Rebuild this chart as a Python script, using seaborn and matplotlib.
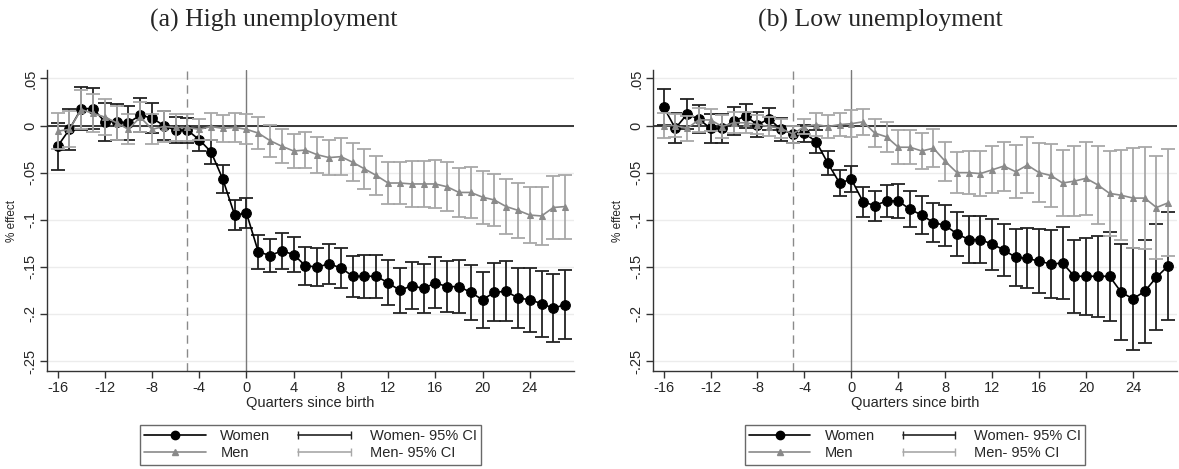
import numpy as np
import pandas as pd
import matplotlib
matplotlib.use("Agg")
import matplotlib.pyplot as plt
import seaborn as sns
from matplotlib.lines import Line2D
from matplotlib.legend_handler import HandlerLine2D

# quarters relative to birth
quarters = list(range(-16, 28))

# (a) high unemployment
women_high = [-0.022, -0.004, 0.018, 0.018, 0.004, 0.004, 0.003, 0.011, 0.008, 0.000, -0.005, -0.005,
              -0.015, -0.028, -0.057, -0.095, -0.093, -0.134, -0.138, -0.133, -0.137, -0.149, -0.150,
              -0.147, -0.151, -0.160, -0.160, -0.160, -0.167, -0.175, -0.170, -0.173, -0.167, -0.171,
              -0.171, -0.177, -0.185, -0.177, -0.176, -0.183, -0.185, -0.189, -0.194, -0.190]
women_high_ci = [0.025, 0.022, 0.023, 0.022, 0.020, 0.019, 0.018, 0.018, 0.016, 0.015, 0.014, 0.013,
                 0.012, 0.013, 0.015, 0.016, 0.016, 0.018, 0.018, 0.019, 0.019, 0.020, 0.020,
                 0.021, 0.021, 0.022, 0.023, 0.023, 0.024, 0.024, 0.025, 0.026, 0.027, 0.027,
                 0.028, 0.029, 0.030, 0.031, 0.032, 0.032, 0.034, 0.035, 0.036, 0.037]
men_high = [-0.006, -0.004, 0.017, 0.013, 0.009, 0.003, -0.004, 0.009, -0.004, -0.001, -0.002, -0.002,
            -0.004, -0.001, -0.003, -0.002, -0.004, -0.008, -0.016, -0.022, -0.027, -0.026, -0.031,
            -0.034, -0.033, -0.039, -0.046, -0.053, -0.061, -0.061, -0.062, -0.062, -0.062, -0.065,
            -0.071, -0.071, -0.076, -0.079, -0.086, -0.090, -0.095, -0.096, -0.087, -0.086]
men_high_ci = [0.019, 0.019, 0.021, 0.020, 0.019, 0.018, 0.016, 0.016, 0.016, 0.016, 0.014, 0.014,
               0.011, 0.014, 0.014, 0.015, 0.016, 0.017, 0.017, 0.018, 0.018, 0.019, 0.019,
               0.019, 0.020, 0.020, 0.021, 0.021, 0.022, 0.022, 0.024, 0.024, 0.025, 0.026,
               0.026, 0.027, 0.028, 0.028, 0.029, 0.029, 0.030, 0.031, 0.033, 0.034]

# (b) low unemployment
women_low = [0.020, -0.003, 0.012, 0.007, -0.003, -0.003, 0.005, 0.010, 0.001, 0.007, -0.004, -0.009,
             -0.008, -0.017, -0.040, -0.061, -0.057, -0.081, -0.085, -0.080, -0.080, -0.089, -0.095,
             -0.103, -0.106, -0.115, -0.121, -0.121, -0.126, -0.132, -0.140, -0.141, -0.144, -0.147,
             -0.146, -0.160, -0.160, -0.160, -0.160, -0.177, -0.184, -0.176, -0.161, -0.149]
women_low_ci = [0.019, 0.016, 0.016, 0.015, 0.015, 0.015, 0.015, 0.013, 0.013, 0.012, 0.012, 0.009,
                0.009, 0.012, 0.013, 0.014, 0.014, 0.016, 0.016, 0.017, 0.018, 0.019, 0.020,
                0.021, 0.022, 0.023, 0.025, 0.025, 0.027, 0.028, 0.030, 0.032, 0.034, 0.036,
                0.038, 0.039, 0.041, 0.043, 0.047, 0.051, 0.054, 0.055, 0.056, 0.057]
men_low = [0.000, 0.000, -0.003, 0.006, 0.006, -0.001, 0.003, 0.003, 0.001, -0.001, -0.003, -0.009,
           -0.001, 0.001, -0.001, 0.001, 0.002, 0.004, -0.008, -0.012, -0.023, -0.023, -0.027,
           -0.024, -0.038, -0.050, -0.050, -0.051, -0.047, -0.043, -0.049, -0.042, -0.050, -0.053,
           -0.061, -0.059, -0.056, -0.063, -0.072, -0.074, -0.077, -0.077, -0.087, -0.082]
men_low_ci = [0.013, 0.012, 0.013, 0.013, 0.012, 0.012, 0.011, 0.011, 0.010, 0.010, 0.010, 0.009,
              0.008, 0.012, 0.012, 0.012, 0.014, 0.014, 0.015, 0.016, 0.018, 0.018, 0.019,
              0.020, 0.021, 0.022, 0.023, 0.024, 0.025, 0.026, 0.028, 0.030, 0.031, 0.033,
              0.035, 0.037, 0.039, 0.041, 0.045, 0.048, 0.053, 0.054, 0.055, 0.057]

titles = ["(a) High unemployment", "(b) Low unemployment"]
yticks = [0.05, 0, -0.05, -0.1, -0.15, -0.2, -0.25]
ytick_labels = [".05", "0", "-.05", "-.1", "-.15", "-.2", "-.25"]
xticks = [-16, -12, -8, -4, 0, 4, 8, 12, 16, 20, 24]

sns.set_style("white")
plt.rcParams['font.family'] = ['Liberation Sans', 'DejaVu Sans']

W_COL = "black"
W_CI = "#222222"
M_COL = "#8a8a8a"
M_CI = "#a8a8a8"


def panel(ax, w, wci, m, mci):
    """one event-study panel, women and men with 95% CI"""
    df = pd.DataFrame({"q": quarters, "women": w, "women_ci": wci, "men": m, "men_ci": mci})
    for yt in yticks:
        ax.axhline(yt, color="#ececec", lw=1, zorder=0)
    ax.axhline(0, color="#2a2a2a", lw=1.3, zorder=1)
    ax.axvline(0, color="#7a7a7a", lw=1, zorder=1)
    ax.axvline(-5, color="#8a8a8a", lw=1, ls=(0, (6, 4)), zorder=1)
    # women
    ax.errorbar(df["q"], df["women"], yerr=df["women_ci"], fmt="none", ecolor=W_CI,
                elinewidth=1.3, capsize=5, capthick=1.3, zorder=2)
    sns.lineplot(data=df, x="q", y="women", ax=ax, color=W_COL, marker="o", markersize=7,
                 markeredgecolor=W_COL, lw=1.2, zorder=3)
    # men
    ax.errorbar(df["q"], df["men"], yerr=df["men_ci"], fmt="none", ecolor=M_CI,
                elinewidth=1.3, capsize=5, capthick=1.3, zorder=4)
    sns.lineplot(data=df, x="q", y="men", ax=ax, color=M_COL, marker="^", markersize=4.5,
                 markeredgecolor=M_COL, lw=1.2, zorder=5)
    ax.set_xlim(-16.9, 27.75)
    ax.set_ylim(-0.2606, 0.059)
    ax.set_yticks(yticks)
    ax.set_yticklabels(ytick_labels, rotation=90, va="center", fontsize=10.5)
    ax.set_xticks(xticks)
    ax.set_xticklabels([str(t) for t in xticks], fontsize=10.5)
    ax.tick_params(axis="both", direction="out", length=5, width=1, color="#333333", pad=2,
                   left=True, bottom=True)
    for s in ["top", "right"]:
        ax.spines[s].set_visible(False)
    for s in ["left", "bottom"]:
        ax.spines[s].set_color("#333333")
        ax.spines[s].set_linewidth(1)
    ax.set_xlabel("Quarters since birth", fontsize=10.5, labelpad=1)
    ax.set_ylabel("% effect", fontsize=8.5, labelpad=4)

    h_w = Line2D([], [], color=W_COL, marker="o", markersize=6, lw=1.2)
    h_m = Line2D([], [], color=M_COL, marker="^", markersize=4.5, lw=1.2)
    h_wci = Line2D([], [], color=W_CI, marker="|", markersize=6, lw=1.2)
    h_mci = Line2D([], [], color=M_CI, marker="|", markersize=6, lw=1.2)
    leg = ax.legend([h_w, h_m, h_wci, h_mci], ["Women", "Men", "Women- 95% CI", "Men- 95% CI"],
                    ncol=2, loc="upper center", bbox_to_anchor=(0.5, -0.155), fontsize=10.5,
                    frameon=True, fancybox=False, edgecolor="#444444", handlelength=4.2,
                    handletextpad=1.0, columnspacing=1.6, borderpad=0.3, labelspacing=0.2,
                    handler_map={h_wci: HandlerLine2D(numpoints=2), h_mci: HandlerLine2D(numpoints=2)})
    leg.get_frame().set_linewidth(1)


fig = plt.figure(figsize=(11.79, 4.69), dpi=100)
ax1 = fig.add_axes([47 / 1179, 1 - 371 / 469, 527 / 1179, 301 / 469])
ax2 = fig.add_axes([653 / 1179, 1 - 371 / 469, 524 / 1179, 301 / 469])
panel(ax1, women_high, women_high_ci, men_high, men_high_ci)
panel(ax2, women_low, women_low_ci, men_low, men_low_ci)

fig.text(274 / 1179, 1 - 20 / 469, titles[0], ha="center", va="center", fontsize=18.5,
         family=["Liberation Serif", "DejaVu Serif"])
fig.text(880 / 1179, 1 - 20 / 469, titles[1], ha="center", va="center", fontsize=18.5,
         family=["Liberation Serif", "DejaVu Serif"])

fig.savefig("out.png", dpi=100, facecolor="white")
